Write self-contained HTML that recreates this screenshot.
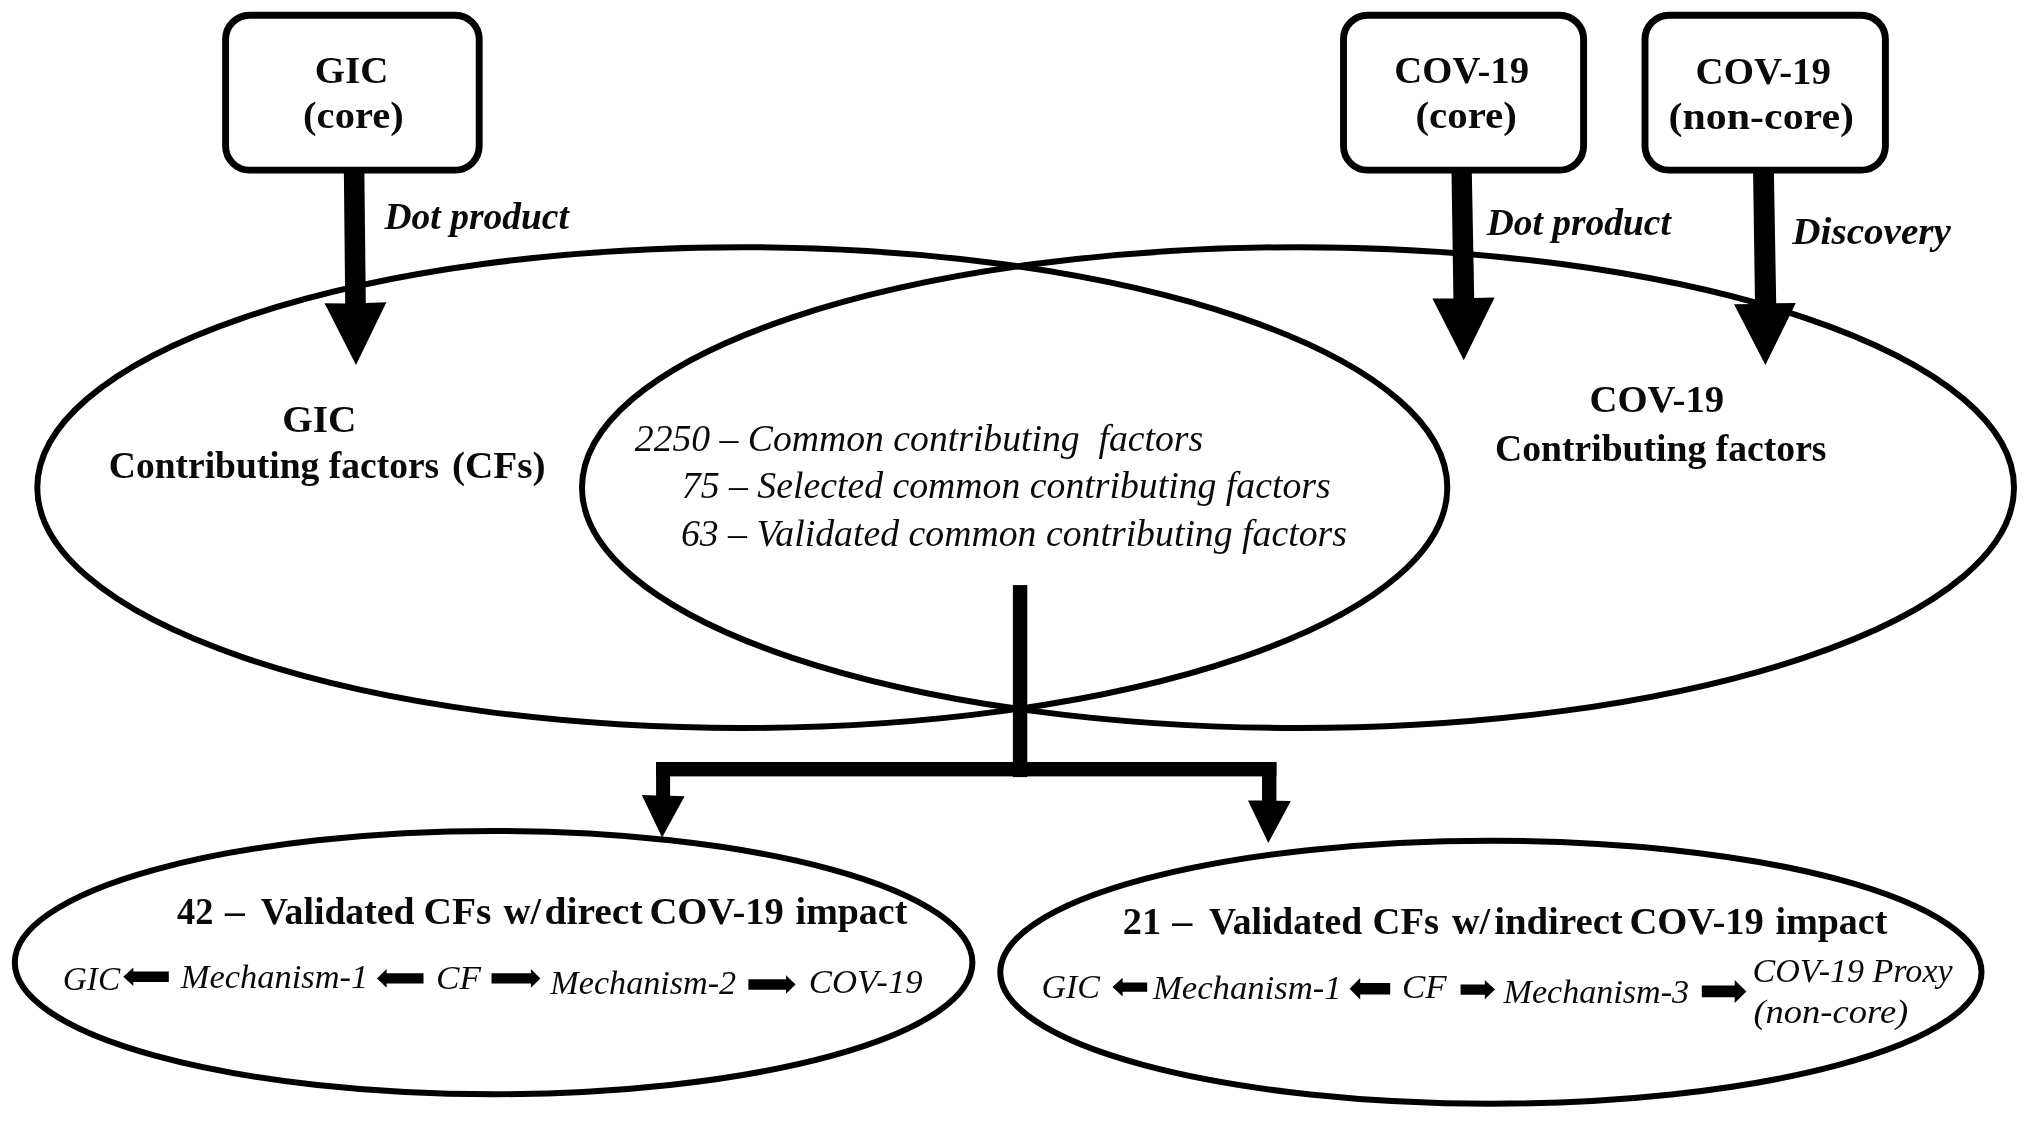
<!DOCTYPE html>
<html lang="en">
<head>
<meta charset="utf-8">
<title>GIC and COV-19 contributing factors</title>
<style>
html,body{margin:0;padding:0;background:#fff;}
body{width:2031px;height:1121px;overflow:hidden;}
svg{display:block;filter:blur(0.45px);}
text{font-family:"Liberation Serif","Times New Roman",serif;fill:#0a0a0a;white-space:pre;}
.b{font-weight:bold;}
.bi{font-weight:bold;font-style:italic;}
.i{font-style:italic;}
.e{fill:none;stroke:#000;stroke-width:6.0;}
.bx{fill:#fff;stroke:#000;stroke-width:6.9;}
.k{fill:#000;}
</style>
</head>
<body>
<svg width="2031" height="1121" viewBox="0 0 2031 1121">
<rect width="2031" height="1121" fill="#fff"/>
<!-- big Venn ellipses -->
<ellipse class="e" cx="742.3" cy="487.6" rx="705" ry="240.4"/>
<ellipse class="e" cx="1298" cy="487.6" rx="716" ry="240.4"/>
<!-- bottom ellipses -->
<ellipse class="e" cx="493.6" cy="962.6" rx="478.8" ry="131.6"/>
<ellipse class="e" cx="1490.9" cy="972.2" rx="490.6" ry="131.5"/>
<!-- big arrows from boxes -->
<polygon class="k" points="343.8,166 364.3,166 365.8,303 386.4,302.3 356,365.1 324.6,303.3 345.2,303.5"/>
<polygon class="k" points="1451.4,166 1471.7,166 1474.2,298 1494.6,297.4 1463.8,360.2 1432.4,298.4 1453.4,298.4"/>
<polygon class="k" points="1753,166 1773.8,166 1776.2,303.2 1795.8,302.9 1765.4,365.1 1734,304.3 1755,304"/>
<!-- boxes -->
<rect class="bx" x="225.6" y="15.2" width="253.6" height="154.9" rx="24" ry="24"/>
<rect class="bx" x="1343.5" y="15.2" width="240.1" height="154.9" rx="24" ry="24"/>
<rect class="bx" x="1645" y="15.2" width="240.4" height="154.9" rx="24" ry="24"/>
<!-- T junction -->
<rect class="k" x="1012.9" y="585.1" width="14.4" height="192"/>
<rect class="k" x="656.1" y="762" width="620.3" height="14.4"/>
<polygon class="k" points="656.1,762 670.1,762 670.1,795.8 684.6,796.2 662.1,837.5 641.8,795.1 656.1,795.4"/>
<polygon class="k" points="1262,762 1276.4,762 1276.4,800.8 1290.8,801 1268.3,843 1248,800.5 1262,800.6"/>
<!-- small arrows, left bottom ellipse -->
<polygon class="k" points="123.3,976.8 133.3,967.5 133.3,971.6 168.8,971.6 168.8,982 133.3,982 133.3,986.1"/>
<polygon class="k" points="377,978.4 386.6,969.1 386.6,973.2 423.5,973.2 423.5,983.6 386.6,983.6 386.6,987.7"/>
<polygon class="k" points="540.4,978.4 530.9,969.1 530.9,973.2 491.5,973.2 491.5,983.6 530.9,983.6 530.9,987.7"/>
<polygon class="k" points="795.6,984.5 786,975.2 786,979.3 748.4,979.3 748.4,989.7 786,989.7 786,993.8"/>
<!-- small arrows, right bottom ellipse -->
<polygon class="k" points="1112.5,987.1 1122.6,977.7 1122.6,982.4 1147.2,982.4 1147.2,991.8 1122.6,991.8 1122.6,996.5"/>
<polygon class="k" points="1349.6,988.8 1360.2,978 1360.2,983.1 1390.2,983.1 1390.2,994.5 1360.2,994.5 1360.2,999.6"/>
<polygon class="k" points="1495,989.6 1484.8,980 1484.8,984.5 1460.6,984.5 1460.6,994.7 1484.8,994.7 1484.8,999.2"/>
<polygon class="k" points="1746.4,991.4 1734.7,980 1734.7,985.4 1701.8,985.4 1701.8,997.2 1734.7,997.2 1734.7,1002.9"/>

<g>
<text class="b" x="314.7" y="82.9" font-size="38" textLength="73.6" lengthAdjust="spacingAndGlyphs" xml:space="preserve">GIC</text>
<text class="b" x="303.1" y="128.4" font-size="38" textLength="100.7" lengthAdjust="spacingAndGlyphs" xml:space="preserve">(core)</text>
<text class="b" x="1394.3" y="82.9" font-size="38" textLength="134.8" lengthAdjust="spacingAndGlyphs" xml:space="preserve">COV-19</text>
<text class="b" x="1415.5" y="128.4" font-size="38" textLength="101.4" lengthAdjust="spacingAndGlyphs" xml:space="preserve">(core)</text>
<text class="b" x="1695.6" y="83.8" font-size="38" textLength="135.4" lengthAdjust="spacingAndGlyphs" xml:space="preserve">COV-19</text>
<text class="b" x="1668.6" y="129.3" font-size="38" textLength="185.4" lengthAdjust="spacingAndGlyphs" xml:space="preserve">(non-core)</text>
<text class="b" x="282.2" y="432.0" font-size="38" textLength="74.2" lengthAdjust="spacingAndGlyphs" xml:space="preserve">GIC</text>
<text class="b" x="108.8" y="478.1" font-size="38" textLength="330.4" lengthAdjust="spacingAndGlyphs" xml:space="preserve">Contributing factors</text>
<text class="b" x="451.9" y="478.1" font-size="38" textLength="93.7" lengthAdjust="spacingAndGlyphs" xml:space="preserve">(CFs)</text>
<text class="b" x="1589.5" y="412.2" font-size="38" textLength="134.7" lengthAdjust="spacingAndGlyphs" xml:space="preserve">COV-19</text>
<text class="b" x="1495.0" y="461.4" font-size="38" textLength="331.5" lengthAdjust="spacingAndGlyphs" xml:space="preserve">Contributing factors</text>
<text class="b" x="177.1" y="924.2" font-size="38" textLength="36.3" lengthAdjust="spacingAndGlyphs" xml:space="preserve">42</text>
<text class="b" x="225.1" y="924.2" font-size="38" textLength="19.7" lengthAdjust="spacingAndGlyphs" xml:space="preserve">–</text>
<text class="b" x="260.8" y="924.2" font-size="38" textLength="153.7" lengthAdjust="spacingAndGlyphs" xml:space="preserve">Validated</text>
<text class="b" x="423.6" y="924.2" font-size="38" textLength="67.8" lengthAdjust="spacingAndGlyphs" xml:space="preserve">CFs</text>
<text class="b" x="503.5" y="924.2" font-size="38" textLength="37.5" lengthAdjust="spacingAndGlyphs" xml:space="preserve">w/</text>
<text class="b" x="544.5" y="924.2" font-size="38" textLength="98.1" lengthAdjust="spacingAndGlyphs" xml:space="preserve">direct</text>
<text class="b" x="649.4" y="924.2" font-size="38" textLength="134.5" lengthAdjust="spacingAndGlyphs" xml:space="preserve">COV-19</text>
<text class="b" x="795.6" y="924.2" font-size="38" textLength="111.7" lengthAdjust="spacingAndGlyphs" xml:space="preserve">impact</text>
<text class="b" x="1122.7" y="934.2" font-size="38" textLength="38.4" lengthAdjust="spacingAndGlyphs" xml:space="preserve">21</text>
<text class="b" x="1172.3" y="934.2" font-size="38" textLength="20.0" lengthAdjust="spacingAndGlyphs" xml:space="preserve">–</text>
<text class="b" x="1209.0" y="934.2" font-size="38" textLength="153.1" lengthAdjust="spacingAndGlyphs" xml:space="preserve">Validated</text>
<text class="b" x="1372.5" y="934.2" font-size="38" textLength="66.5" lengthAdjust="spacingAndGlyphs" xml:space="preserve">CFs</text>
<text class="b" x="1452.0" y="934.2" font-size="38" textLength="38.2" lengthAdjust="spacingAndGlyphs" xml:space="preserve">w/</text>
<text class="b" x="1494.2" y="934.2" font-size="38" textLength="128.6" lengthAdjust="spacingAndGlyphs" xml:space="preserve">indirect</text>
<text class="b" x="1629.4" y="934.2" font-size="38" textLength="134.5" lengthAdjust="spacingAndGlyphs" xml:space="preserve">COV-19</text>
<text class="b" x="1775.6" y="934.2" font-size="38" textLength="111.7" lengthAdjust="spacingAndGlyphs" xml:space="preserve">impact</text>
<text class="bi" x="384.5" y="228.7" font-size="37" textLength="184.4" lengthAdjust="spacingAndGlyphs" xml:space="preserve">Dot product</text>
<text class="bi" x="1486.8" y="234.6" font-size="37" textLength="184.0" lengthAdjust="spacingAndGlyphs" xml:space="preserve">Dot product</text>
<text class="bi" x="1792.3" y="244.4" font-size="37" textLength="158.6" lengthAdjust="spacingAndGlyphs" xml:space="preserve">Discovery</text>
<text class="i" x="634.8" y="450.5" font-size="37.5" textLength="568.4" lengthAdjust="spacingAndGlyphs" xml:space="preserve">2250 – Common contributing  factors</text>
<text class="i" x="681.8" y="498.3" font-size="37.5" textLength="648.9" lengthAdjust="spacingAndGlyphs" xml:space="preserve">75 – Selected common contributing factors</text>
<text class="i" x="680.9" y="545.9" font-size="37.5" textLength="666.1" lengthAdjust="spacingAndGlyphs" xml:space="preserve">63 – Validated common contributing factors</text>
<text class="i" x="62.8" y="989.5" font-size="34" textLength="57.4" lengthAdjust="spacingAndGlyphs" xml:space="preserve">GIC</text>
<text class="i" x="180.8" y="988.2" font-size="34" textLength="187.5" lengthAdjust="spacingAndGlyphs" xml:space="preserve">Mechanism-1</text>
<text class="i" x="436.1" y="988.8" font-size="34" textLength="44.9" lengthAdjust="spacingAndGlyphs" xml:space="preserve">CF</text>
<text class="i" x="550.3" y="993.5" font-size="34" textLength="185.9" lengthAdjust="spacingAndGlyphs" xml:space="preserve">Mechanism-2</text>
<text class="i" x="808.7" y="993.1" font-size="34" textLength="114.0" lengthAdjust="spacingAndGlyphs" xml:space="preserve">COV-19</text>
<text class="i" x="1041.4" y="998.3" font-size="34" textLength="58.5" lengthAdjust="spacingAndGlyphs" xml:space="preserve">GIC</text>
<text class="i" x="1152.9" y="999.4" font-size="34" textLength="188.8" lengthAdjust="spacingAndGlyphs" xml:space="preserve">Mechanism-1</text>
<text class="i" x="1401.9" y="998.2" font-size="34" textLength="44.6" lengthAdjust="spacingAndGlyphs" xml:space="preserve">CF</text>
<text class="i" x="1503.5" y="1003.1" font-size="34" textLength="185.6" lengthAdjust="spacingAndGlyphs" xml:space="preserve">Mechanism-3</text>
<text class="i" x="1752.5" y="982.2" font-size="34" textLength="200.1" lengthAdjust="spacingAndGlyphs" xml:space="preserve">COV-19 Proxy</text>
<text class="i" x="1753.4" y="1022.8" font-size="34" textLength="154.9" lengthAdjust="spacingAndGlyphs" xml:space="preserve">(non-core)</text>
</g>
</svg>
</body>
</html>
